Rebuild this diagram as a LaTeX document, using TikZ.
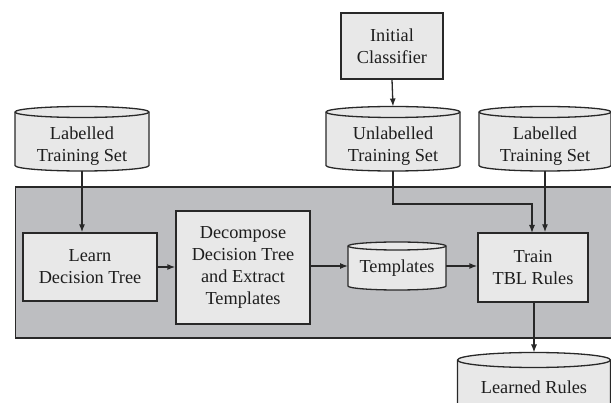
\documentclass[tikz,border=0pt]{standalone}
\usepackage{fontspec}
\setmainfont{Liberation Serif}
\usetikzlibrary{arrows.meta}
\definecolor{boxc}{RGB}{232,232,232}
\definecolor{panelc}{RGB}{189,190,193}
\definecolor{linec}{RGB}{40,40,40}
\definecolor{textc}{RGB}{30,30,30}
\newcommand\fs{\fontsize{18.3}{21.8}\selectfont}
\tikzset{
  box/.style={draw=linec, fill=boxc, line width=1.3pt, align=center, font=\fs, text=textc, inner sep=0pt},
  txt/.style={align=center, font=\fs, text=textc, inner sep=0pt},
  cylb/.style={draw=linec, fill=boxc, line width=1.3pt},
  arr/.style={draw=linec, line width=1.3pt, -{Latex[length=8pt,width=6pt]}},
}
% name, cx, cy, half width, half height, text y, ellipse radius, text
\newcommand\cyl[8]{%
  \filldraw[cylb] (#2-#4,#3-#5+#7) -- (#2-#4,#3+#5-#7)
     arc[start angle=180,end angle=0,x radius=#4,y radius=#7]
     -- (#2+#4,#3-#5+#7)
     arc[start angle=0,end angle=-180,x radius=#4,y radius=#7] -- cycle;
  \draw[cylb,fill=none] (#2-#4,#3-#5+#7) arc[start angle=180,end angle=0,x radius=#4,y radius=#7];
  \node[txt] (#1) at (#2,#6) {#8};
  \coordinate (#1-n) at (#2,#3-#5);
  \coordinate (#1-s) at (#2,#3+#5);
  \coordinate (#1-w) at (#2-#4,#3);
  \coordinate (#1-e) at (#2+#4,#3);
}
\begin{document}
\begin{tikzpicture}[x=1pt,y=-1pt]
\useasboundingbox (0,0) rectangle (611,403);
% panel
\filldraw[draw=linec, fill=panelc, line width=1.3pt] (15.5,187) rectangle (625,338);
% boxes
\node[box, minimum width=102pt, minimum height=66pt] (init) at (392,46) {Initial\\Classifier};
\node[box, minimum width=134pt, minimum height=68pt] (learn) at (90,267) {Learn\\Decision Tree};
\node[box, minimum width=134pt, minimum height=113pt] (decomp) at (243,267.5) {Decompose\\Decision Tree\\and Extract\\Templates};
\node[box, minimum width=110pt, minimum height=69pt] (train) at (533,267.5) {Train\\TBL Rules};
% cylinders
\cyl{lts}{82}{138.75}{67}{32.25}{146}{5.5}{Labelled\\Training Set}
\cyl{uts}{393}{138.75}{67}{32.25}{146}{5.5}{Unlabelled\\Training Set}
\cyl{rts}{545}{138.75}{66}{32.25}{146}{5.5}{Labelled\\Training Set}
\cyl{tpl}{397}{266}{49}{24}{268}{4}{Templates}
\cyl{lr}{534}{390}{76.5}{37.5}{387}{7.5}{Learned Rules}
% connectors
\draw[arr] (init.south) -- (uts-n);
\draw[arr] (lts-s) -- (lts-s |- learn.north);
\draw[arr] (learn.east) -- (decomp.west |- learn.east);
\draw[arr] (decomp.east |- tpl-w) -- (tpl-w);
\draw[arr] (tpl-e) -- (train.west |- tpl-e);
\draw[arr] (uts-s) -- (393,204) -- (532,204) -- (532,233);
\draw[arr] (rts-s) -- (rts-s |- train.north);
\draw[arr] (train.south -| lr-n) -- (lr-n);
\end{tikzpicture}
\end{document}
